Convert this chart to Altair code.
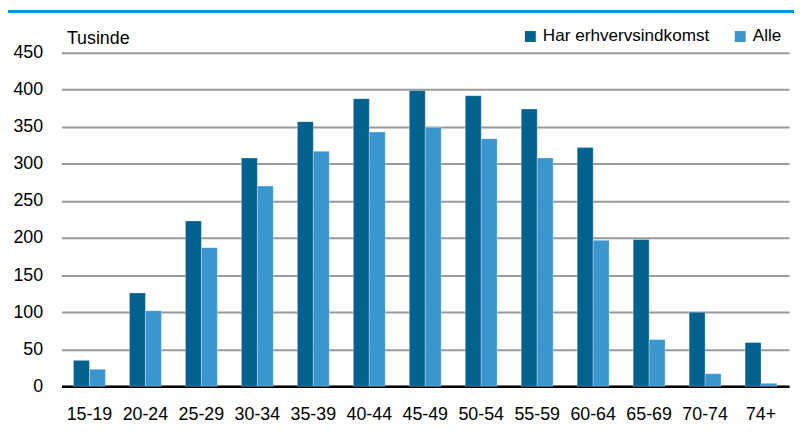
import altair as alt
import pandas as pd

categories = ["15-19", "20-24", "25-29", "30-34", "35-39", "40-44", "45-49",
              "50-54", "55-59", "60-64", "65-69", "70-74", "74+"]
series_names = ["Har erhvervsindkomst", "Alle"]
har_erhverv = [35, 126, 223, 308, 357, 388, 399, 392, 374, 322, 198, 100, 59]
alle = [23, 102, 187, 270, 317, 343, 349, 334, 308, 197, 63, 17, 4]
y_ticks = [0, 50, 100, 150, 200, 250, 300, 350, 400, 450]

rows = []
for i, c in enumerate(categories):
    rows.append({"Alder": c, "Serie": series_names[0], "Værdi": har_erhverv[i]})
    rows.append({"Alder": c, "Serie": series_names[1], "Værdi": alle[i]})
df = pd.DataFrame(rows)

FONT = "Liberation Sans, Arial, sans-serif"
FS = 18
W, H = 735, 337

bars = alt.Chart(df).mark_bar(stroke="#ffffff", strokeWidth=0.6, strokeOpacity=0.5).encode(
    x=alt.X("Alder:N", sort=categories,
            scale=alt.Scale(paddingInner=0.43, paddingOuter=0.215),
            axis=alt.Axis(title=None, labelAngle=0, labelFontSize=FS, labelFont=FONT,
                          labelColor="#000000", tickSize=0, labelPadding=20,
                          domainColor="#000000", domainWidth=2.5, grid=False)),
    xOffset=alt.XOffset("Serie:N", sort=series_names, scale=alt.Scale(paddingInner=0)),
    y=alt.Y("Værdi:Q", scale=alt.Scale(domain=[0, 450], nice=False),
            axis=alt.Axis(values=y_ticks, title="Tusinde", titleAngle=0, titleAlign="left",
                          titleBaseline="alphabetic", titleX=5, titleY=-9,
                          titleFontSize=FS, titleFontWeight="normal", titleFont=FONT,
                          titleColor="#000000",
                          labelFontSize=FS, labelFont=FONT, labelColor="#000000",
                          labelPadding=19, tickSize=0, domain=False,
                          grid=True, gridColor="#9a9a9a", gridWidth=2)),
    color=alt.Color("Serie:N", sort=series_names,
                    scale=alt.Scale(domain=series_names, range=["#03618F", "#3A96CC"]),
                    legend=alt.Legend(title=None, orient="none", direction="horizontal",
                                      legendX=465, legendY=-25, symbolType="square",
                                      symbolSize=121, symbolStrokeWidth=0,
                                      labelFontSize=17.3, labelFont=FONT, labelColor="#000000",
                                      labelLimit=400,
                                      labelOffset=4, columnPadding=22, padding=0)),
)

topline = alt.Chart(pd.DataFrame({"a": [0]})).mark_rule(color="#0095D9", strokeWidth=3).encode(
    x=alt.value(-54), x2=alt.value(W + 6), y=alt.value(-41.5)
)

chart = alt.layer(bars, topline).properties(
    width=W, height=H,
    autosize=alt.AutoSizeParams(type="none"),
    padding={"left": 54, "top": 43, "right": 5, "bottom": 40},
).configure_view(stroke=None)

chart.save("out.html", embed_options={"renderer": "svg", "actions": False})
